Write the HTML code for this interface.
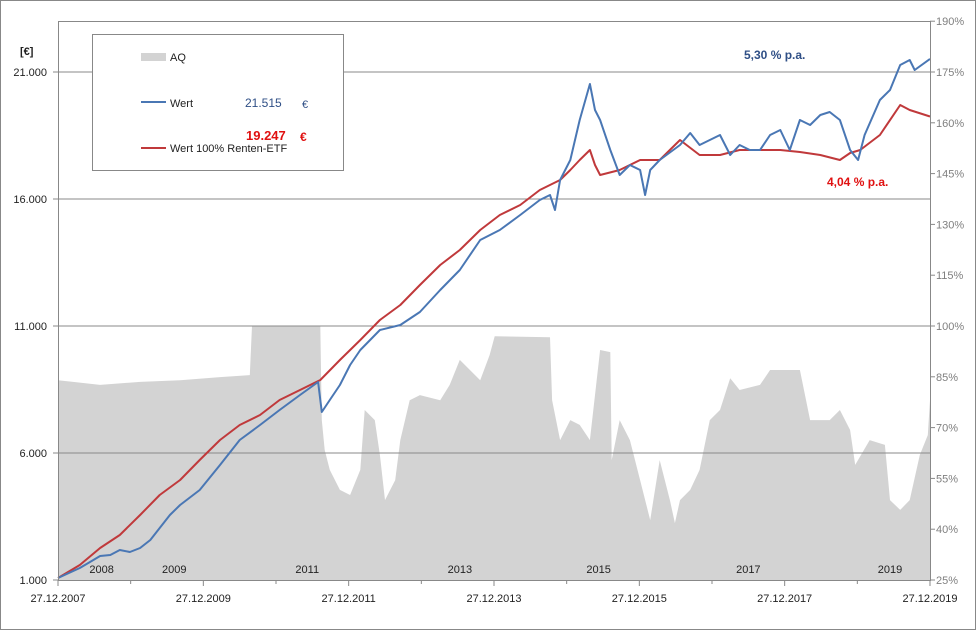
<!DOCTYPE html>
<html><head><meta charset="utf-8"><style>
html,body{margin:0;padding:0;background:#fff;}
svg{display:block;font-family:"Liberation Sans",sans-serif;}
</style></head><body>
<svg id="chart" width="976" height="630" viewBox="0 0 976 630" xmlns="http://www.w3.org/2000/svg">
<rect x="0.5" y="0.5" width="975" height="629" fill="#fff" stroke="#888"/>
<g id="aq-layer"></g>
<g id="grid-layer"></g>
<g id="line-layer"></g>
<g id="axis-layer"></g>
<g>
<rect x="92.5" y="34.5" width="251" height="136" fill="#fff" stroke="#888"/>
<rect x="141" y="53" width="25" height="8" fill="#d3d3d3"/>
<text x="170" y="61" font-size="11" fill="#222">AQ</text>
<line x1="141" y1="102" x2="166" y2="102" stroke="#4a77b4" stroke-width="2"/>
<text x="170" y="107" font-size="11" fill="#222">Wert</text>
<text x="245" y="107" font-size="12" fill="#2f4f86">21.515</text>
<text x="302" y="108" font-size="11" fill="#2f4f86">€</text>
<text x="246" y="140" font-size="13" font-weight="bold" fill="#e01010">19.247</text>
<text x="300" y="141" font-size="12" font-weight="bold" fill="#e01010">€</text>
<line x1="141" y1="148" x2="166" y2="148" stroke="#c0393b" stroke-width="2"/>
<text x="170" y="152" font-size="11" fill="#222">Wert 100% Renten-ETF</text>
</g>
<text x="20" y="55" font-size="11" font-weight="bold" fill="#222">[€]</text>
<text x="744" y="59" font-size="12" font-weight="bold" fill="#2f4f86">5,30  % p.a.</text>
<text x="827" y="186" font-size="12" font-weight="bold" fill="#e01010">4,04  % p.a.</text>
</svg>
<script>
// time in years since 27.12.2007
const wertT = [0,.30,.44,.58,.72,.85,.99,1.13,1.27,1.40,1.54,1.68,1.95,2.23,2.50,2.78,3.05,3.33,3.58,3.63,3.74,3.88,4.02,4.16,4.43,4.71,4.98,5.26,5.53,5.81,6.08,6.36,6.63,6.77,6.84,6.91,7.05,7.18,7.32,7.39,7.46,7.60,7.73,7.87,8.01,8.08,8.15,8.28,8.56,8.70,8.83,8.97,9.11,9.25,9.38,9.52,9.66,9.80,9.94,10.07,10.21,10.35,10.49,10.62,10.76,10.90,11.01,11.10,11.31,11.45,11.59,11.72,11.79,12.0];
const wertV = [1079,1472,1709,1945,1984,2181,2102,2260,2575,3047,3559,3953,4543,5528,6512,7102,7693,8283,8795,7614,8087,8677,9465,10055,10843,11039,11551,12417,13205,14386,14780,15370,15961,16157,15567,16748,17535,19110,20528,19504,19110,17929,16945,17339,17142,16157,17142,17535,18126,18598,18126,18323,18520,17732,18126,17929,17929,18520,18717,17929,19110,18913,19307,19425,19110,17929,17535,18520,19898,20291,21276,21472,21079,21515];
const rentenT = [0,.30,.58,.85,1.13,1.40,1.68,1.95,2.23,2.50,2.78,3.05,3.33,3.61,3.88,4.16,4.43,4.71,4.98,5.26,5.53,5.81,6.08,6.36,6.63,6.91,7.05,7.18,7.32,7.39,7.46,7.73,8.01,8.28,8.56,8.83,9.11,9.38,9.66,9.94,10.21,10.49,10.76,10.90,11.04,11.31,11.59,11.72,12.0];
const rentenV = [1079,1591,2260,2772,3559,4346,4937,5724,6512,7102,7496,8087,8480,8874,9661,10449,11236,11827,12614,13402,13992,14780,15370,15764,16354,16748,17142,17535,17929,17339,16945,17142,17535,17535,18323,17732,17732,17929,17929,17929,17850,17732,17535,17811,17929,18520,19701,19504,19247];
const aqT = [0,.58,1.13,1.68,2.23,2.64,2.67,3.61,3.63,3.67,3.74,3.88,4.02,4.16,4.22,4.36,4.43,4.50,4.64,4.71,4.84,4.98,5.26,5.39,5.53,5.81,5.94,6.01,6.77,6.80,6.91,7.05,7.18,7.32,7.46,7.60,7.62,7.73,7.87,8.01,8.15,8.28,8.42,8.49,8.56,8.70,8.83,8.97,9.11,9.25,9.38,9.66,9.80,10.21,10.35,10.62,10.76,10.90,10.97,11.17,11.38,11.45,11.59,11.72,11.86,11.97,12.0];
const aqPct = [84.0,82.6,83.5,84.0,84.9,85.5,100,100,72.2,63.4,57.5,51.6,50.1,57.5,75.2,72.2,61.9,48.6,54.5,66.3,78.1,79.6,78.1,82.6,90.0,84.0,91.4,97.0,96.7,78.1,66.3,72.2,70.8,66.3,92.9,92.3,60.4,72.2,66.3,54.5,42.7,60.4,48.6,41.8,48.6,51.6,57.5,72.2,75.2,84.6,81.1,82.6,87.0,87.0,72.2,72.2,75.2,69.3,59.0,66.3,64.9,48.6,45.7,48.6,61.9,67.8,78.1];
const leftTicks = [1000,6000,11000,16000,21000];
const leftTickLabels = ["1.000","6.000","11.000","16.000","21.000"];
const rightTicks = [25,40,55,70,85,100,115,130,145,160,175,190];
const xTickYears = [0,2,4,6,8,10,12];
const xTickLabels = ["27.12.2007","27.12.2009","27.12.2011","27.12.2013","27.12.2015","27.12.2017","27.12.2019"];
const yearMarks = [0.6,1.6,3.43,5.53,7.44,9.5,11.45];
const yearMarkLabels = ["2008","2009","2011","2013","2015","2017","2019"];

const X0=58,X1=930,Y0=580,YT=21;
const xS = t => X0 + t*(X1-X0)/12;
const yL = v => Y0 - (v-1000)*(Y0-72)/20000;
const yR = p => Y0 - (p-25)*(Y0-326)/75;
const NS="http://www.w3.org/2000/svg";
function mk(tag, attrs, parent){const e=document.createElementNS(NS,tag);for(const k in attrs)e.setAttribute(k,attrs[k]);parent.appendChild(e);return e;}
const aqL=document.getElementById('aq-layer'),gL=document.getElementById('grid-layer'),lL=document.getElementById('line-layer'),axL=document.getElementById('axis-layer');

let d=`M${xS(aqT[0])},${Y0}`;
for(let i=0;i<aqT.length;i++){d+=` L${xS(aqT[i]).toFixed(1)},${yR(aqPct[i]).toFixed(1)}`;}
d+=` L${xS(aqT[aqT.length-1])},${Y0} Z`;
const area=mk('path',{d:d,fill:'#d3d3d3'},aqL);



leftTicks.forEach((v,i)=>{
  if(i===0)return;
  const g=mk('line',{x1:X0,x2:X1,y1:yL(v),y2:yL(v),stroke:'#888','stroke-width':1},gL);
  
  
});

function line(T,V,color,name){
  let p='';
  for(let i=0;i<T.length;i++)p+=(i?' L':'M')+xS(T[i]).toFixed(1)+','+yL(V[i]).toFixed(1);
  const e=mk('path',{d:p,fill:'none',stroke:color,'stroke-width':2,'stroke-linejoin':'round'},lL);
  
  
}
line(rentenT,rentenV,'#c0393b','renten-line');
line(wertT,wertV,'#4a77b4','wert-line');

const fr=mk('rect',{x:X0+0.5,y:YT+0.5,width:X1-X0,height:Y0-YT,fill:'none',stroke:'#888'},axL);



leftTicks.forEach((v,i)=>{
  mk('line',{x1:X0-5,x2:X0,y1:yL(v),y2:yL(v),stroke:'#888'},axL);
  const t=mk('text',{x:47,y:yL(v)+4,'text-anchor':'end','font-size':11,fill:'#222'},axL);
  t.textContent=leftTickLabels[i];
  
  
});
rightTicks.forEach(p=>{
  mk('line',{x1:X1,x2:X1+5,y1:yR(p),y2:yR(p),stroke:'#888'},axL);
  const t=mk('text',{x:936,y:yR(p)+4,'font-size':11,fill:'#7f7f7f'},axL);
  t.textContent=p+'%';
  
  
});
for(let yv=0;yv<=12;yv++){
  mk('line',{x1:xS(yv),x2:xS(yv),y1:Y0,y2:Y0+(yv%2?4:6),stroke:'#888'},axL);
}
xTickYears.forEach((yv,i)=>{
  const t=mk('text',{x:xS(yv),y:602,'text-anchor':'middle','font-size':11,fill:'#222'},axL);
  t.textContent=xTickLabels[i];
  
  
});
yearMarks.forEach((yv,i)=>{
  const t=mk('text',{x:xS(yv),y:573,'text-anchor':'middle','font-size':11,fill:'#222'},axL);
  t.textContent=yearMarkLabels[i];
  
  
});
</script>
</body></html>
